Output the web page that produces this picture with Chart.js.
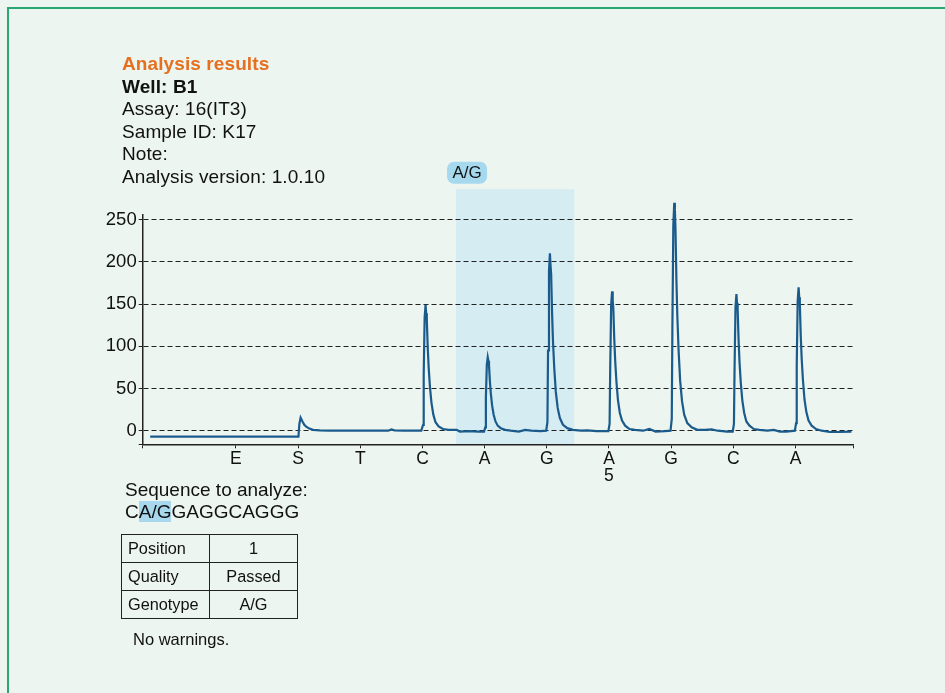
<!DOCTYPE html>
<html>
<head>
<meta charset="utf-8">
<script src="https://cdn.jsdelivr.net/npm/chart.js@4/dist/chart.umd.min.js"></script>
<style>
  html, body { margin: 0; padding: 0; background: #ecf5f0; }
  body { width: 945px; height: 693px; position: relative; overflow: hidden;
         font-family: 'Liberation Sans', Arial, Helvetica, sans-serif; color: #111; }
  #frame { position: absolute; left: 7px; top: 7px; width: 1000px; height: 800px;
           border-left: 2px solid #2aa671; border-top: 2px solid #2aa671; }
  #chart { position: absolute; left: 0; top: 0; }
  #hdr { position: absolute; left: 122px; top: 53px; font-size: 19px; line-height: 22.5px; letter-spacing: 0.1px; }
  #hdr .title { color: #e5701f; font-weight: bold; }
  #hdr .well { font-weight: bold; }
  #seq { position: absolute; left: 125px; top: 479px; font-size: 19px; line-height: 22.3px; }
  #seq .hl { background: #a8d8ed; }
  #tbl { position: absolute; left: 121px; top: 534px; border-collapse: collapse; font-size: 16.3px; }
  #tbl td { border: 1px solid #222; height: 27px; padding: 0; }
  #tbl td.k { width: 81px; padding-left: 6px; }
  #tbl td.v { width: 87px; text-align: center; }
  #warn { position: absolute; left: 133px; top: 629px; font-size: 16.5px; line-height: 20px; }
</style>
</head>
<body>
<div id="frame"></div>
<canvas id="chart" width="945" height="693"></canvas>
<div id="hdr">
  <div class="title">Analysis results</div>
  <div class="well">Well: B1</div>
  <div>Assay: 16(IT3)</div>
  <div>Sample ID: K17</div>
  <div>Note:</div>
  <div>Analysis version: 1.0.10</div>
</div>
<div id="seq">
  <div>Sequence to analyze:</div>
  <div>C<span class="hl">A/G</span>GAGGCAGGG</div>
</div>
<table id="tbl">
  <tr><td class="k">Position</td><td class="v">1</td></tr>
  <tr><td class="k">Quality</td><td class="v">Passed</td></tr>
  <tr><td class="k">Genotype</td><td class="v">A/G</td></tr>
</table>
<div id="warn">No warnings.</div>

<script>
// dispensation order, one tick per dispensed nucleotide
const tickPositions = [1, 2, 3, 4, 5, 6, 7, 8, 9, 10];
const tickLabels = ['E', 'S', 'T', 'C', 'A', 'G', 'A', 'G', 'C', 'A'];
const tickNumbers = ['', '', '', '', '', '', '5', '', '', ''];
const yTicks = [0, 50, 100, 150, 200, 250];

// pyrogram trace (x in dispensation units, y in signal units)
const signalX = [
  -0.38, 2.005, 2.02, 2.04, 2.07, 2.1, 2.13, 2.18, 2.24, 2.35, 2.5, 3.0, 3.45, 3.5, 3.55, 3.7, 3.98,
  4.01, 4.02, 4.035, 4.05, 4.06, 4.07, 4.085, 4.1, 4.12, 4.145, 4.175, 4.21, 4.26, 4.33, 4.42,
  4.55, 4.6, 4.75, 4.9, 4.99,
  5.01, 5.02, 5.035, 5.05, 5.06, 5.07, 5.085, 5.1, 5.12, 5.145, 5.175, 5.21, 5.26, 5.33, 5.42,
  5.55, 5.65, 5.75, 5.9, 5.99,
  6.01, 6.02, 6.035, 6.05, 6.06, 6.07, 6.085, 6.1, 6.12, 6.145, 6.175, 6.21, 6.26, 6.33, 6.42,
  6.55, 6.65, 6.8, 6.99,
  7.01, 7.02, 7.035, 7.05, 7.06, 7.07, 7.085, 7.1, 7.12, 7.145, 7.175, 7.21, 7.26, 7.33, 7.42,
  7.55, 7.65, 7.75, 7.9, 7.99,
  8.01, 8.02, 8.035, 8.05, 8.06, 8.07, 8.085, 8.1, 8.12, 8.145, 8.175, 8.21, 8.26, 8.33, 8.42,
  8.55, 8.65, 8.75, 8.9, 8.99,
  9.01, 9.02, 9.035, 9.05, 9.06, 9.07, 9.085, 9.1, 9.12, 9.145, 9.175, 9.21, 9.26, 9.33, 9.42,
  9.55, 9.65, 9.75, 9.85, 9.99,
  10.01, 10.02, 10.035, 10.05, 10.06, 10.07, 10.085, 10.1, 10.12, 10.145, 10.175, 10.21, 10.26, 10.33, 10.42,
  10.55, 10.7, 10.9
];
const signalY = [
  -7, -7, 8, 15.4, 11, 7, 4.7, 2.5, 1, 0.3, 0, 0, 0, 1.5, 0.5, 0, 0,
  7, 67, 134, 149, 139, 131, 98, 75, 52, 33, 19, 10, 5, 2, 1,
  1, -1, -0.5, -1, -1,
  4, 39, 78, 87, 83, 78, 58, 44, 30, 19, 11, 6, 3, 1, 0,
  -1, 1, 0, -0.5, 0,
  10, 95, 189, 210, 196, 185, 139, 105, 74, 46, 27, 15, 7, 3, 1,
  0, 0.5, -0.5, -0.5,
  8, 74, 149, 165, 154, 145, 109, 83, 58, 36, 21, 12, 6, 2, 1,
  0, 2, -1, -0.5, 0,
  14, 122, 243, 270, 262, 238, 178, 135, 95, 59, 35, 19, 9, 4, 1,
  1, 1.5, 0, -1, -1,
  8, 73, 146, 162, 151, 143, 107, 81, 57, 36, 21, 11, 6, 2, 1,
  0, 1, -1, -1, 0,
  9, 77, 153, 170, 158, 150, 112, 85, 60, 37, 22, 12, 6, 2, 0,
  -1.5, -1.5, -1
];

// analysed region (A/G) on the dispensation axis
const regionStart = 4.54;
const regionEnd = 6.44;
const regionTop = 286;
const regionLabel = 'A/G';

const xMin = -0.5, xMax = 10.93;
const yMin = -16.1, yMax = 256;

const fontFamily = "'Liberation Sans', Arial, sans-serif";

// light blue band behind the grid plus its label
const regionPlugin = {
  id: 'region',
  beforeDraw(chart) {
    const c = chart.ctx, xs = chart.scales.x, ys = chart.scales.y;
    const x0 = xs.getPixelForValue(regionStart), x1 = xs.getPixelForValue(regionEnd);
    const yTop = ys.getPixelForValue(regionTop), yBot = ys.getPixelForValue(yMin);
    c.save();
    c.fillStyle = 'rgb(212,236,242)';
    c.fillRect(x0, yTop, x1 - x0, yBot - yTop);
    // label box
    c.font = "17px " + fontFamily;
    const w = 40, h = 22, lx = x0 - 9, ly = yTop - 27.5;
    c.fillStyle = '#a6d9ee';
    c.beginPath();
    c.roundRect(lx, ly, w, h, 7);
    c.fill();
    c.fillStyle = '#111';
    c.textAlign = 'center';
    c.textBaseline = 'middle';
    c.fillText(regionLabel, lx + w / 2, ly + h / 2 + 1);
    c.restore();
  }
};

const points = signalX.map((x, i) => ({ x: x, y: signalY[i] }));

new Chart(document.getElementById('chart'), {
  type: 'line',
  data: {
    datasets: [{
      data: points,
      borderColor: '#1a5b8c',
      borderWidth: 2.2,
      pointRadius: 0,
      tension: 0,
      clip: false
    }]
  },
  options: {
    responsive: false,
    animation: false,
    layout: { padding: { left: 90.7, right: 91.7, top: 214.6, bottom: 198.7 } },
    plugins: { legend: { display: false }, tooltip: { enabled: false } },
    scales: {
      x: {
        type: 'linear',
        min: xMin,
        max: xMax,
        afterBuildTicks: s => { s.ticks = [xMin].concat(tickPositions, [xMax]).map(v => ({ value: v })); },
        afterFit: s => { s.height = 50; },
        ticks: {
          autoSkip: false,
          maxRotation: 0,
          padding: 2,
          color: '#111',
          font: { family: fontFamily, size: 17.5, lineHeight: 1.0 },
          callback: v => {
            const i = tickPositions.indexOf(v);
            if (i < 0) return '';
            return tickNumbers[i] ? [tickLabels[i], tickNumbers[i]] : tickLabels[i];
          }
        },
        grid: { drawOnChartArea: false, drawTicks: true, tickLength: 4, color: '#222' },
        border: { color: '#222', width: 1.5 }
      },
      y: {
        min: yMin,
        max: yMax,
        afterBuildTicks: s => { s.ticks = [yMin].concat(yTicks).map(v => ({ value: v })); },
        afterFit: s => { s.width = 52; },
        ticks: {
          padding: 2,
          color: '#111',
          font: { family: fontFamily, size: 18.5 },
          callback: v => (yTicks.indexOf(v) < 0 ? '' : String(v))
        },
        grid: {
          color: c => (c.tick && c.tick.value === yMin ? 'rgba(0,0,0,0)' : '#222'),
          tickColor: '#222',
          tickLength: 4,
          tickBorderDash: []
        },
        border: { color: '#222', width: 1.5, dash: [5, 3] }
      }
    }
  },
  plugins: [regionPlugin]
});
</script>
</body>
</html>
